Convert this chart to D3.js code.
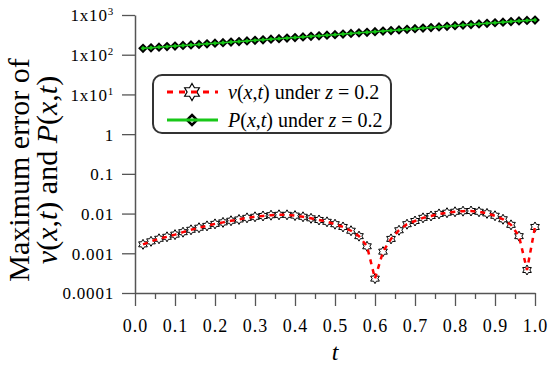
<!DOCTYPE html>
<html><head><meta charset="utf-8">
<script src="https://cdn.jsdelivr.net/npm/d3@7"></script>
<style>
html,body{margin:0;padding:0;background:#fff;}
svg{display:block;}
</style></head>
<body>
<svg id="c" width="550" height="365"></svg>
<script>
// ---- data ----
const tValues = [0.02,0.04,0.06,0.08,0.10,0.12,0.14,0.16,0.18,0.20,0.22,0.24,0.26,0.28,0.30,0.32,0.34,0.36,0.38,0.40,0.42,0.44,0.46,0.48,0.50,0.52,0.54,0.56,0.58,0.60,0.62,0.64,0.66,0.68,0.70,0.72,0.74,0.76,0.78,0.80,0.82,0.84,0.86,0.88,0.90,0.92,0.94,0.96,0.98,1.00];
const vError = [0.00168,0.0020,0.00232,0.0026,0.00295,0.0034,0.0039,0.0044,0.0049,0.0055,0.0060,0.0066,0.0071,0.0078,0.0083,0.0087,0.0091,0.0093,0.0093,0.0089,0.0083,0.0076,0.0069,0.0062,0.0054,0.0046,0.0037,0.0027,0.0015,0.00023,0.0011,0.0023,0.0038,0.0054,0.0065,0.0078,0.0087,0.0098,0.0105,0.0111,0.0115,0.0116,0.0111,0.0101,0.0088,0.0072,0.0052,0.0027,0.00038,0.0046];
const pError = [145,149,155,160,165,171,176,182,188,195,201,208,215,222,230,238,246,254,262,271,281,290,300,310,320,331,343,355,367,380,393,407,422,437,452,468,484,501,519,537,556,575,596,617,638,661,684,708,728,748];
const xTicks = [0,0.1,0.2,0.3,0.4,0.5,0.6,0.7,0.8,0.9,1.0];
const xMinorTicks = [0.05,0.15,0.25,0.35,0.45,0.55,0.65,0.75,0.85,0.95];
const xTickLabels = ["0.0","0.1","0.2","0.3","0.4","0.5","0.6","0.7","0.8","0.9","1.0"];
const yTicks = [1e3,1e2,1e1,1,0.1,0.01,0.001,0.0001];
const yTickBase = ["1x10","1x10","1x10","1","0.1","0.01","0.001","0.0001"];
const yTickExp = ["3","2","1","","","","",""];

const FONT = "'Liberation Serif','DejaVu Serif','Noto Serif',serif";
const svg = d3.select("#c");
const x = d3.scaleLinear().domain([0,1]).range([135,535]);
const y = d3.scaleLog().domain([1e-4,1e3]).range([293,15]);
const axisColor = "#555";

// x minor ticks
const gxm = svg.append("g").attr("transform","translate(0,293)")
  .call(d3.axisBottom(x).tickValues(xMinorTicks).tickSize(6).tickFormat(""));
gxm.select(".domain").remove();
gxm.selectAll("line").attr("stroke",axisColor).attr("stroke-width",1.3);
// x major axis
const gx = svg.append("g").attr("transform","translate(0,293)")
  .call(d3.axisBottom(x).tickValues(xTicks).tickSize(13).tickSizeOuter(0)
    .tickFormat((d,i)=>xTickLabels[i]).tickPadding(13));
gx.attr("font-family",FONT).attr("font-size",18);
gx.select(".domain").attr("stroke",axisColor).attr("stroke-width",1.5);
gx.selectAll("line").attr("stroke",axisColor).attr("stroke-width",1.3);
gx.selectAll("text").attr("letter-spacing",1).attr("fill","#000");

// y axis
const gy = svg.append("g").attr("transform","translate(135,0)")
  .call(d3.axisLeft(y).tickValues(yTicks).tickSize(13).tickSizeOuter(0).tickFormat("").tickPadding(8));
gy.attr("font-family",FONT).attr("font-size",17);
gy.select(".domain").attr("stroke",axisColor).attr("stroke-width",1.5);
gy.selectAll("line").attr("stroke",axisColor).attr("stroke-width",1.3);
gy.selectAll(".tick").each(function(d,i){
  const t = d3.select(this).append("text")
    .attr("x",-21).attr("dy","0.35em").attr("text-anchor","end")
    .attr("letter-spacing",0.8).attr("fill","#000");
  t.append("tspan").text(yTickBase[i]);
  if (yTickExp[i]) t.append("tspan").attr("dy","-0.55em").attr("font-size",11).text(yTickExp[i]);
});

// hexagram path
function hexagram(r){
  const pts=[];
  for(let i=0;i<12;i++){
    const a = -Math.PI/2 + i*Math.PI/6;
    const rr = (i%2===0)? r : r/Math.sqrt(3);
    pts.push([rr*Math.cos(a), rr*Math.sin(a)]);
  }
  return "M"+pts.map(p=>p[0].toFixed(2)+","+p[1].toFixed(2)).join("L")+"Z";
}
function diamond(r){ return `M0,${-r}L${r},0L0,${r}L${-r},0Z`; }

const green = "#18c818";
const vData = tValues.map((t,i)=>({t, v:vError[i]}));
const pData = tValues.map((t,i)=>({t, v:pError[i]}));

svg.append("g").selectAll("path").data(pData).join("path")
  .attr("d",diamond(3.6)).attr("transform",d=>`translate(${x(d.t)},${y(d.v)})`)
  .attr("fill",green).attr("stroke","#000").attr("stroke-width",1.8);
svg.append("path").datum(pData)
  .attr("d",d3.line().x(d=>x(d.t)).y(d=>y(d.v)))
  .attr("fill","none").attr("stroke",green).attr("stroke-width",1.5);

svg.append("g").selectAll("path").data(vData).join("path")
  .attr("d",hexagram(5)).attr("transform",d=>`translate(${x(d.t)},${y(d.v)})`)
  .attr("fill","#fff").attr("stroke","#000").attr("stroke-width",1);
svg.append("path").datum(vData)
  .attr("d",d3.line().x(d=>x(d.t)).y(d=>y(d.v)))
  .attr("fill","none").attr("stroke","#ff0000").attr("stroke-width",2.5).attr("stroke-dasharray","5,5");

// legend
const lg = svg.append("g").attr("font-family",FONT);
lg.append("rect").attr("x",153).attr("y",75).attr("width",238).attr("height",58).attr("rx",9)
  .attr("fill","#fff").attr("stroke","#333").attr("stroke-width",2);
lg.append("path").attr("d",hexagram(8.5)).attr("transform","translate(192,92)")
  .attr("fill","#fff").attr("stroke","#000").attr("stroke-width",1.2);
lg.append("line").attr("x1",167).attr("x2",218).attr("y1",92).attr("y2",92)
  .attr("stroke","#ff0000").attr("stroke-width",3).attr("stroke-dasharray","6,6");
lg.append("path").attr("d",diamond(5)).attr("transform","translate(192,120)")
  .attr("fill","#fff").attr("stroke","#000").attr("stroke-width",2.5);
lg.append("line").attr("x1",167).attr("x2",218).attr("y1",120).attr("y2",120)
  .attr("stroke",green).attr("stroke-width",3);
function richLabel(g, xx, yy, fs, parts){
  const t = g.append("text").attr("x",xx).attr("y",yy).attr("font-size",fs).attr("font-family",FONT);
  parts.forEach(p=>t.append("tspan").attr("font-style",p[1]?"italic":"normal").text(p[0]));
  return t;
}
richLabel(lg,228,99,20,[["v",1],["(",0],["x",1],[",",0],["t",1],[") under ",0],["z",1],[" = 0.2",0]]);
richLabel(lg,228,127,20,[["P",1],["(",0],["x",1],[",",0],["t",1],[") under ",0],["z",1],[" = 0.2",0]]);

richLabel(svg,335,360,24,[["t",1]]).attr("text-anchor","middle");
const yt = svg.append("g").attr("transform","translate(0,170) rotate(-90)");
richLabel(yt,0,29,30,[["Maximum error of",0]]).attr("text-anchor","middle");
richLabel(yt,0,57,30,[["v",1],["(",0],["x",1],[",",0],["t",1],[") and ",0],["P",1],["(",0],["x",1],[",",0],["t",1],[")",0]]).attr("text-anchor","middle");
</script>
</body></html>
